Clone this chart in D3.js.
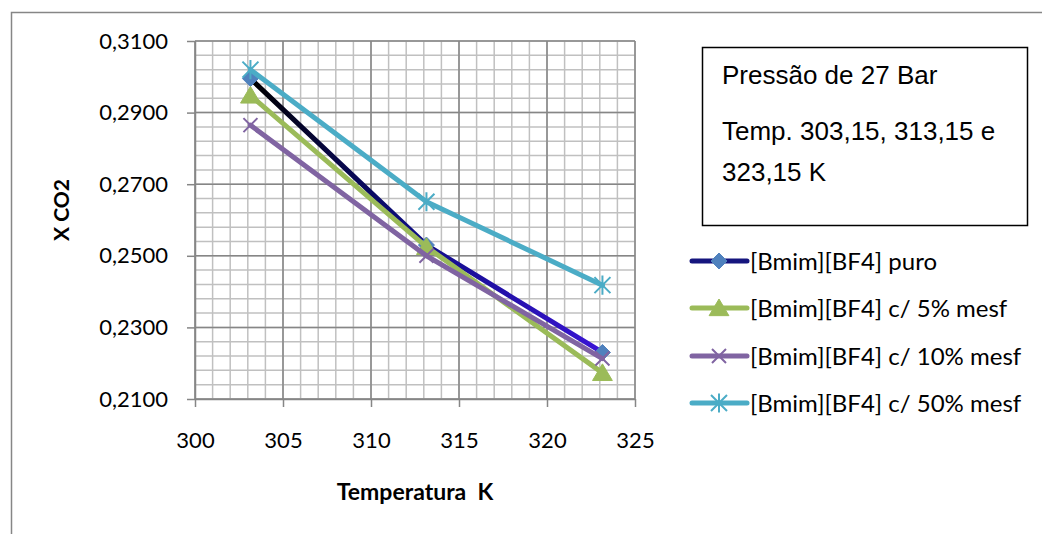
<!DOCTYPE html>
<html>
<head>
<meta charset="utf-8">
<script src="https://cdn.jsdelivr.net/npm/d3@7"></script>
<style>
  body { margin: 0; background: #fff; }
  svg { display: block; }
</style>
</head>
<body>
<div id="chart"></div>
<script>
// data
const temps = [303.15, 313.15, 323.15];
const puro = [0.2995, 0.2530, 0.2230];
const mesf5 = [0.2948, 0.2525, 0.2173];
const mesf10 = [0.2865, 0.2500, 0.2213];
const mesf50 = [0.3020, 0.2651, 0.2418];
const seriesNames = [
  "[Bmim][BF4] puro",
  "[Bmim][BF4] c/ 5% mesf",
  "[Bmim][BF4] c/ 10% mesf",
  "[Bmim][BF4] c/ 50% mesf"
];
const xTicks = [300, 305, 310, 315, 320, 325];
const yTicks = [0.21, 0.23, 0.25, 0.27, 0.29, 0.31];
const noteLines = ["Pressão de 27 Bar", "Temp. 303,15, 313,15 e", "323,15 K"];

const width = 1042;
const height = 534;
const plot = { left: 195, right: 635, top: 41, bottom: 399 };

const svg = d3.select("#chart")
  .append("svg")
  .attr("width", width)
  .attr("height", height);

// outer chart border (runs off right/bottom edges)
svg.append("rect")
  .attr("x", 11.5).attr("y", 12.5)
  .attr("width", 1100).attr("height", 600)
  .attr("fill", "none")
  .attr("stroke", "#868686")
  .attr("stroke-width", 1.5);

const x = d3.scaleLinear().domain([300, 325]).range([plot.left, plot.right]);
const y = d3.scaleLinear().domain([0.21, 0.31]).range([plot.bottom, plot.top]);

// minor grid
const g = svg.append("g");
g.selectAll("line.vminor")
  .data(d3.range(300, 326, 1))
  .enter().append("line")
  .attr("x1", d => x(d)).attr("x2", d => x(d))
  .attr("y1", plot.top).attr("y2", plot.bottom)
  .attr("stroke", "#c0c0c0").attr("stroke-width", 1.5);
g.selectAll("line.hminor")
  .data(d3.range(0, 26).map(i => 0.21 + i * 0.004))
  .enter().append("line")
  .attr("x1", plot.left).attr("x2", plot.right)
  .attr("y1", d => y(d)).attr("y2", d => y(d))
  .attr("stroke", "#c0c0c0").attr("stroke-width", 1.5);
// major grid
g.selectAll("line.vmajor")
  .data(xTicks)
  .enter().append("line")
  .attr("x1", d => x(d)).attr("x2", d => x(d))
  .attr("y1", plot.top).attr("y2", plot.bottom)
  .attr("stroke", "#868686").attr("stroke-width", 1.5);
g.selectAll("line.hmajor")
  .data(yTicks)
  .enter().append("line")
  .attr("x1", plot.left).attr("x2", plot.right)
  .attr("y1", d => y(d)).attr("y2", d => y(d))
  .attr("stroke", "#868686").attr("stroke-width", 1.5);

// axes
const fmt = d => d3.format(".4f")(d).replace(".", ",");
const xAxis = svg.append("g")
  .attr("transform", `translate(0,${plot.bottom})`)
  .call(d3.axisBottom(x).tickValues(xTicks).tickSize(8).tickPadding(25).tickSizeOuter(0));
const yAxis = svg.append("g")
  .attr("transform", `translate(${plot.left},0)`)
  .call(d3.axisLeft(y).tickValues(yTicks).tickFormat(fmt).tickSize(8).tickPadding(19).tickSizeOuter(0));
[xAxis, yAxis].forEach(a => {
  a.select(".domain").attr("stroke", "#868686").attr("stroke-width", 1.5);
  a.selectAll(".tick line").attr("stroke", "#868686").attr("stroke-width", 1.5);
  a.selectAll(".tick text")
    .attr("fill", "#000")
    .style("font-family", "Lato, 'Open Sans', sans-serif")
    .style("font-size", "22px");
});

// axis titles
svg.append("text")
  .attr("x", 415).attr("y", 500)
  .attr("text-anchor", "middle")
  .style("white-space", "pre")
  .style("font-family", "Lato, sans-serif")
  .style("font-weight", "bold")
  .style("font-size", "23px")
  .text("Temperatura  K");
svg.append("text")
  .attr("transform", "translate(69,210) rotate(-90)")
  .attr("text-anchor", "middle")
  .style("font-family", "Lato, sans-serif")
  .style("font-weight", "bold")
  .style("font-size", "21px")
  .text("X CO2");

// series
const defs = svg.append("defs");
const grad = defs.append("linearGradient")
  .attr("id", "puroGrad")
  .attr("gradientUnits", "userSpaceOnUse")
  .attr("x1", x(temps[0])).attr("x2", x(temps[2]))
  .attr("y1", 0).attr("y2", 0);
grad.append("stop").attr("offset", "0%").attr("stop-color", "#000000");
grad.append("stop").attr("offset", "45%").attr("stop-color", "#0d0d80");
grad.append("stop").attr("offset", "100%").attr("stop-color", "#3a14d6");

const markerPath = (type, s) => {
  if (type === "diamond") return `M0,${-s}L${s},0L0,${s}L${-s},0Z`;
  if (type === "triangle") return `M0,${-s}L${s * 1.1},${s * 0.85}L${-s * 1.1},${s * 0.85}Z`;
  if (type === "x") return `M${-s},${-s}L${s},${s}M${-s},${s}L${s},${-s}`;
  return `M${-s},${-s}L${s},${s}M${-s},${s}L${s},${-s}M0,${-s * 1.2}L0,${s * 1.2}`;
};

const series = [
  { name: seriesNames[0], values: puro, line: "url(#puroGrad)", legendLine: "#15157e", marker: "diamond", mcolor: "#4f81bd", size: 8 },
  { name: seriesNames[1], values: mesf5, line: "#9bbb59", legendLine: "#9bbb59", marker: "triangle", mcolor: "#9bbb59", size: 9 },
  { name: seriesNames[2], values: mesf10, line: "#8064a2", legendLine: "#8064a2", marker: "x", mcolor: "#8064a2", size: 7 },
  { name: seriesNames[3], values: mesf50, line: "#4bacc6", legendLine: "#4bacc6", marker: "star", mcolor: "#4bacc6", size: 8 }
];

const line = d3.line()
  .x((d, i) => x(temps[i]))
  .y(d => y(d));

const drawMarker = (sel, s, cx, cy) => {
  const filled = s.marker === "diamond" || s.marker === "triangle";
  sel.append("path")
    .attr("transform", `translate(${cx},${cy})`)
    .attr("d", markerPath(s.marker, s.size))
    .attr("fill", filled ? s.mcolor : "none")
    .attr("stroke", s.mcolor)
    .attr("stroke-width", filled ? 1 : 2);
};

series.forEach(s => {
  const sg = svg.append("g");
  sg.append("path")
    .datum(s.values)
    .attr("d", line)
    .attr("fill", "none")
    .attr("stroke", s.line)
    .attr("stroke-width", 5)
    .attr("stroke-linejoin", "round")
    .attr("stroke-linecap", "round");
  s.values.forEach((v, i) => drawMarker(sg, s, x(temps[i]), y(v)));
});

// note box
svg.append("rect")
  .attr("x", 702.5).attr("y", 47.5)
  .attr("width", 325).attr("height", 178)
  .attr("fill", "#fff")
  .attr("stroke", "#000")
  .attr("stroke-width", 1.5);
const noteY = [84, 140, 181];
noteLines.forEach((t, i) => {
  svg.append("text")
    .attr("x", 722).attr("y", noteY[i])
    .style("font-family", "'Liberation Sans', Arial, sans-serif")
    .style("font-size", "26px")
    .text(t);
});

// legend
const legendY = [261, 308, 356, 403];
series.forEach((s, i) => {
  const lg = svg.append("g");
  lg.append("line")
    .attr("x1", 692).attr("x2", 747)
    .attr("y1", legendY[i]).attr("y2", legendY[i])
    .attr("stroke", s.legendLine)
    .attr("stroke-width", 5)
    .attr("stroke-linecap", "round");
  drawMarker(lg, s, 719, legendY[i]);
  lg.append("text")
    .attr("x", 750).attr("y", legendY[i])
    .attr("dy", "0.36em")
    .style("font-family", "Lato, sans-serif")
    .style("font-size", "24px")
    .text(s.name);
});
</script>
</body>
</html>
